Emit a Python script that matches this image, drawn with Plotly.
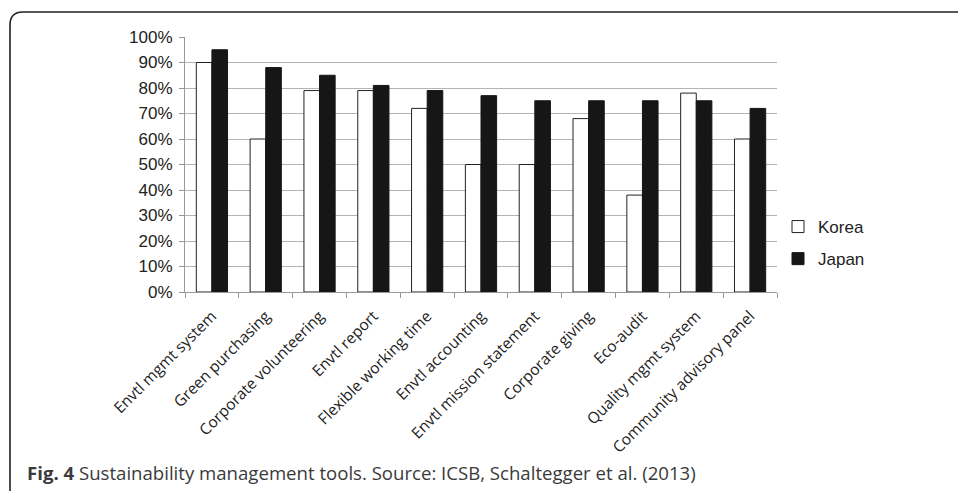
import plotly.graph_objects as go

categories = ["Envtl mgmt system", "Green purchasing", "Corporate volunteering",
              "Envtl report", "Flexible working time", "Envtl accounting",
              "Envtl mission statement", "Corporate giving", "Eco-audit",
              "Quality mgmt system", "Community advisory panel"]
korea = [90, 60, 79, 79, 72, 50, 50, 68, 38, 78, 60]
japan = [95, 88, 85, 81, 79, 77, 75, 75, 75, 75, 72]
y_ticks = [0, 10, 20, 30, 40, 50, 60, 70, 80, 90, 100]
y_tick_labels = [f"{v}%" for v in y_ticks]
caption_bold = "Fig. 4"
caption_text = " Sustainability management tools. Source: ICSB, Schaltegger et al. (2013)"

W, H = 958, 491
L, R, T, B = 185, 181, 37, 199
pw, ph = W - L - R, H - T - B

def px(x):
    return (x - L) / pw

def py(y):
    return (H - B - y) / ph

fig = go.Figure()
fig.add_trace(go.Bar(x=categories, y=korea, name="Korea", legendgroup="k",
                     marker=dict(color="white", line=dict(color="#222222", width=1))))
fig.add_trace(go.Bar(x=categories, y=japan, name="Japan", legendgroup="j",
                     marker=dict(color="#161616", line=dict(color="#161616", width=1))))

frame_path = (f"M {px(10)},{py(495)} L {px(10)},{py(25)} "
              f"Q {px(10)},{py(12)} {px(23)},{py(12)} L {px(960)},{py(12)}")

fig.update_layout(
    width=W, height=H,
    margin=dict(l=L, r=R, t=T, b=B),
    paper_bgcolor="white", plot_bgcolor="white",
    barmode="group", bargap=0.42, bargroupgap=0,
    showlegend=True,
    legend=dict(x=px(778), y=py(209), xanchor="left", yanchor="top",
                font=dict(family="Liberation Sans, Arial", size=17, color="#222222"),
                tracegroupgap=7, itemwidth=30, bgcolor="rgba(0,0,0,0)"),
    xaxis=dict(type="category", tickangle=-45, tickson="boundaries",
               ticks="outside", ticklen=5, tickcolor="#999999", tickwidth=1,
               ticklabelstandoff=8,
               showline=True, linecolor="#999999", linewidth=1,
               showgrid=False,
               tickfont=dict(family="Open Sans", size=15.5, color="#222222")),
    yaxis=dict(range=[0, 100], tickvals=y_ticks, ticktext=y_tick_labels,
               ticks="outside", ticklen=5, tickcolor="#999999", tickwidth=1,
               ticklabelstandoff=3,
               showline=True, linecolor="#999999", linewidth=1,
               showgrid=True, gridcolor="#b4b4b4", gridwidth=1.3,
               zeroline=False,
               tickfont=dict(family="Liberation Sans, Arial", size=17, color="#222222")),
    shapes=[dict(type="path", xref="paper", yref="paper", path=frame_path,
                 line=dict(color="#222222", width=1.6))],
    annotations=[dict(xref="paper", yref="paper", x=px(25), y=py(472),
                      xanchor="left", yanchor="middle", showarrow=False,
                      text=f"<b>{caption_bold}</b>{caption_text}",
                      font=dict(family="Open Sans", size=18.6, color="#3a3a3a"))],
)

fig.write_html("out.html", config={"displayModeBar": False},
               post_script="document.body.style.margin='0';document.body.style.overflow='hidden';")
